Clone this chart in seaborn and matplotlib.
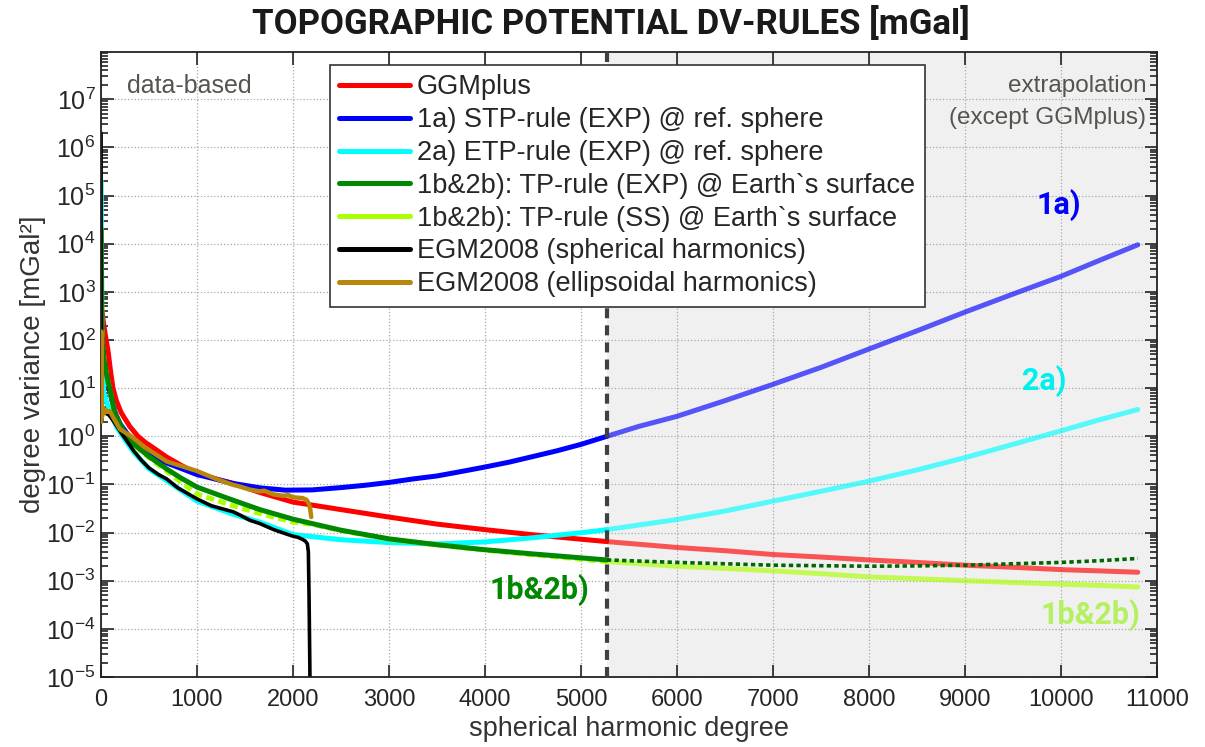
import matplotlib
matplotlib.use("Agg")
import matplotlib.pyplot as plt
from matplotlib.lines import Line2D
import seaborn as sns
import numpy as np

# ---------------- data ----------------
EXTRAP_START = 5270

deg_red = [10, 30, 50, 73, 100, 125, 160, 210, 300, 385, 460, 560, 684, 850, 1000, 1200, 1376, 1655, 2000, 2500,
           3000, 3500, 4000, 4500, 5270]
val_red = [400, 200, 110, 60, 22, 10, 5.5, 3.1, 1.6, 1.0, 0.75, 0.55, 0.37, 0.24, 0.17, 0.13, 0.105, 0.068, 0.043, 0.030,
           0.021, 0.015, 0.0115, 0.009, 0.0065]
deg_red_x = [5270, 6000, 6500, 7000, 7500, 8000, 8500, 9000, 9500, 10000, 10400, 10800]
val_red_x = [0.0065, 0.0049, 0.0042, 0.0035, 0.0031, 0.0027, 0.0024, 0.0021, 0.0019, 0.0017, 0.0016, 0.0015]

deg_blue = [2, 10, 30, 60, 100, 150, 200, 337, 500, 684, 1000, 1376, 1655, 1920, 2200, 2500, 2750, 3000, 3250, 3500,
            3750, 4000, 4250, 4500, 4750, 5000, 5270]
val_blue = [1000, 100, 40, 16, 7, 3.0, 1.8, 0.75, 0.42, 0.28, 0.16, 0.105, 0.085, 0.076, 0.077, 0.086, 0.096, 0.11, 0.13, 0.15,
            0.185, 0.23, 0.29, 0.38, 0.50, 0.68, 1.0]
deg_blue_x = [5270, 5600, 6000, 6500, 7000, 7500, 8000, 8500, 9000, 9500, 10000, 10400, 10800]
val_blue_x = [1.0, 1.6, 2.6, 5.5, 12, 27, 65, 155, 380, 900, 2100, 4500, 9500]

deg_cyan = [2, 10, 30, 60, 94, 166, 270, 340, 500, 684, 1000, 1376, 1655, 2000, 2500, 3000, 3500, 4000, 4500, 4750,
            5000, 5270]
val_cyan = [2e5, 30, 8, 5, 3.2, 1.5, 0.75, 0.47, 0.21, 0.12, 0.045, 0.024, 0.0165, 0.0091, 0.0071, 0.0062, 0.0058, 0.0064,
            0.0078, 0.0088, 0.0099, 0.0115]
deg_cyan_x = [5270, 6000, 6500, 7000, 7500, 8000, 8500, 9000, 9500, 10000, 10400, 10800]
val_cyan_x = [0.0115, 0.0187, 0.028, 0.045, 0.072, 0.117, 0.20, 0.36, 0.68, 1.3, 2.2, 3.6]

deg_green = [2, 10, 30, 60, 90, 142, 198, 262, 337, 500, 684, 822, 1000, 1376, 1655, 2000, 2500, 3000, 3500, 4000,
             4500, 5270]
val_green = [2e4, 100, 40, 18, 10, 3.1, 1.8, 1.0, 0.7, 0.38, 0.21, 0.14, 0.088, 0.047, 0.030, 0.019, 0.0112, 0.0074,
             0.0056, 0.0044, 0.0036, 0.0027]
deg_green_x = [5270, 6000, 6500, 7000, 7500, 8000, 8500, 9000, 9500, 10000, 10400, 10800]
val_green_x = [0.0027, 0.0024, 0.00225, 0.0021, 0.00205, 0.0020, 0.00203, 0.0021, 0.00225, 0.0024, 0.0026, 0.0029]

deg_ss = [2, 10, 30, 60, 90, 142, 198, 262, 337, 500, 684, 1000, 1376, 1655, 2000, 2200, 2500, 3000, 4000, 5270]
val_ss = [2e4, 100, 40, 18, 9.6, 3.0, 1.75, 0.97, 0.68, 0.36, 0.19, 0.063, 0.036, 0.025, 0.0165, 0.0148, 0.011, 0.0072,
          0.0043, 0.0025]
deg_ss_x = [5270, 6000, 6500, 7000, 7500, 8000, 8500, 9000, 9500, 10000, 10400, 10800]
val_ss_x = [0.0025, 0.0020, 0.0018, 0.0016, 0.0014, 0.0012, 0.0011, 0.0010, 0.00092, 0.00085, 0.0008, 0.00074]

deg_black = [1, 2, 5, 10, 20, 30, 50, 80, 120, 166, 220, 270, 340, 420, 500, 600, 684, 800, 1000, 1150, 1376, 1450,
             1550, 1650, 1800, 1900, 2000, 2050, 2100, 2130, 2150, 2160, 2167, 2175, 2185]
val_black = [2e6, 1e3, 2.0, 3.5, 3.2, 3.8, 3.0, 2.8, 2.2, 1.6, 1.1, 0.8, 0.5, 0.32, 0.22, 0.16, 0.13, 0.085, 0.05, 0.036,
             0.027, 0.023, 0.018, 0.0155, 0.0115, 0.0098, 0.0084, 0.0080, 0.0072, 0.0066, 0.0058, 0.004, 0.0005, 2e-5, 1e-7]

deg_brown = [2, 4, 6, 10, 20, 30, 50, 70, 94, 130, 198, 315, 455, 684, 1000, 1200, 1376, 1450, 1550, 1650, 1700,
             1800, 1900, 1950, 2000, 2050, 2100, 2140, 2165, 2180, 2190]
val_brown = [2, 150, 3, 2.5, 4, 3, 3.5, 3.2, 3.3, 2.4, 1.4, 1.0, 0.59, 0.30, 0.19, 0.13, 0.098, 0.09, 0.078, 0.072, 0.074,
             0.062, 0.058, 0.060, 0.054, 0.053, 0.052, 0.048, 0.04, 0.03, 0.021]

labels = ["GGMplus",
          "1a) STP-rule (EXP) @ ref. sphere",
          "2a) ETP-rule (EXP) @ ref. sphere",
          "1b&2b): TP-rule (EXP) @ Earth`s surface",
          "1b&2b): TP-rule (SS) @ Earth`s surface",
          "EGM2008 (spherical harmonics)",
          "EGM2008 (ellipsoidal harmonics)"]
colors = ["#ff0000", "#0000ff", "#00ffff", "#008800", "#aaff00", "#000000", "#b8860b"]

xticks = list(range(0, 11001, 1000))

# ---------------- style ----------------
sns.set_style("ticks")
plt.rcParams["font.family"] = ["Liberation Sans", "DejaVu Sans"]
plt.rcParams["mathtext.fontset"] = "custom"
plt.rcParams["mathtext.rm"] = "Liberation Sans"
plt.rcParams["mathtext.it"] = "Liberation Sans"
condensed = ["Liberation Sans Narrow", "Roboto", "DejaVu Sans"]

fig = plt.figure(figsize=(12.05, 7.47), dpi=100)
W, H = 1205, 747
ax = fig.add_axes([101 / W, 1 - 677 / H, 1056 / W, 625 / H])
ax.set_yscale("log")
ax.set_xlim(0, 11000)
ax.set_ylim(1e-5, 9.6e7)

ax.axvspan(EXTRAP_START, 11000, color="#f0f0f0", zorder=0, lw=0)

LW = 3.6
A = 0.65
sns.lineplot(x=deg_red, y=val_red, ax=ax, color=colors[0], lw=LW, zorder=2)
sns.lineplot(x=deg_red_x, y=val_red_x, ax=ax, color=colors[0], lw=LW, alpha=A, zorder=2)
sns.lineplot(x=deg_blue, y=val_blue, ax=ax, color=colors[1], lw=LW, zorder=2.1)
sns.lineplot(x=deg_blue_x, y=val_blue_x, ax=ax, color=colors[1], lw=LW, alpha=A, zorder=2.1)
sns.lineplot(x=deg_cyan, y=val_cyan, ax=ax, color=colors[2], lw=LW, zorder=2.2)
sns.lineplot(x=deg_cyan_x, y=val_cyan_x, ax=ax, color=colors[2], lw=LW, alpha=A, zorder=2.2)
sns.lineplot(x=deg_ss, y=val_ss, ax=ax, color=colors[4], lw=LW, linestyle=(0, (1.6, 0.9)), zorder=2.25)
sns.lineplot(x=deg_ss_x, y=val_ss_x, ax=ax, color=colors[4], lw=LW, alpha=A, zorder=2.25)
sns.lineplot(x=deg_green, y=val_green, ax=ax, color=colors[3], lw=LW, zorder=2.3)
sns.lineplot(x=deg_green_x, y=val_green_x, ax=ax, color="#006600", lw=2.6, linestyle=(0, (1.2, 0.9)), zorder=2.3)
sns.lineplot(x=deg_black, y=val_black, ax=ax, color=colors[5], lw=2.6, zorder=2.5)
sns.lineplot(x=deg_brown, y=val_brown, ax=ax, color=colors[6], lw=3.2, zorder=2.6)

ax.axvline(EXTRAP_START, color="#404040", lw=3, linestyle=(0, (2.4, 1.7)), zorder=3)

# grid & ticks
ax.set_axisbelow(True)
ax.grid(True, which="major", linestyle=":", color="#a8a8a8", lw=0.9)
ax.set_xticks(xticks)
ax.set_xticklabels([str(t) for t in xticks])
ax.yaxis.set_major_locator(matplotlib.ticker.LogLocator(base=10, numticks=20))
ax.yaxis.set_minor_locator(matplotlib.ticker.LogLocator(base=10, subs=np.arange(2, 10), numticks=200))
ax.yaxis.set_minor_formatter(matplotlib.ticker.NullFormatter())
ax.tick_params(axis="both", which="both", direction="in", top=True, right=True, width=1.2, color="#222222")
ax.tick_params(axis="both", which="major", length=9)
ax.tick_params(axis="y", which="minor", length=5)
ax.tick_params(axis="x", labelsize=17, pad=9)
ax.tick_params(axis="y", labelsize=18, pad=4)
for s in ax.spines.values():
    s.set_linewidth(1.3)
    s.set_color("#222222")

ax.set_xlabel("spherical harmonic degree", fontsize=19.5, color="#333333", labelpad=3)
ax.set_ylabel("degree variance [mGal²]", fontsize=20, color="#333333", labelpad=0)

fig.suptitle("TOPOGRAPHIC POTENTIAL DV-RULES [mGal]", x=0.507, y=0.992, fontsize=25,
             fontweight="bold", family=condensed, color="#1a1a1a", va="top")

gray = "#55554f"
ax.text(0.025, 0.946, "data-based", transform=ax.transAxes, fontsize=18, color=gray, va="center", ha="left")
ax.text(0.99, 0.946, "extrapolation", transform=ax.transAxes, fontsize=17.5, color=gray, va="center", ha="right")
ax.text(0.99, 0.894, "(except GGMplus)", transform=ax.transAxes, fontsize=17.5, color=gray, va="center", ha="right")

ax.text(9980, 6.5e4, "1a)", color="#0000ff", fontsize=22, fontweight="bold", family=condensed, ha="center", va="center")
ax.text(9830, 14, "2a)", color="#00f0f0", fontsize=22, fontweight="bold", family=condensed, ha="center", va="center")
ax.text(4570, 6.5e-4, "1b&2b)", color="#008800", fontsize=22, fontweight="bold", family=condensed, ha="center", va="center")
ax.text(10310, 1.9e-4, "1b&2b)", color="#b4f060", fontsize=22, fontweight="bold", family=condensed, ha="center", va="center")

handles = [Line2D([0], [0], color=c, lw=LW) for c in colors]
leg = ax.legend(handles, labels, loc="upper left", bbox_to_anchor=((330 - 101) / 1056, (677 - 65) / 625),
                borderaxespad=0, fontsize=19.5, frameon=True, fancybox=False, framealpha=1,
                edgecolor="#333333", handlelength=2.6, handletextpad=0.26, labelspacing=0.25,
                borderpad=0.35)
leg.get_frame().set_linewidth(1.2)
leg.set_zorder(5)

fig.savefig("out.png", dpi=100)
